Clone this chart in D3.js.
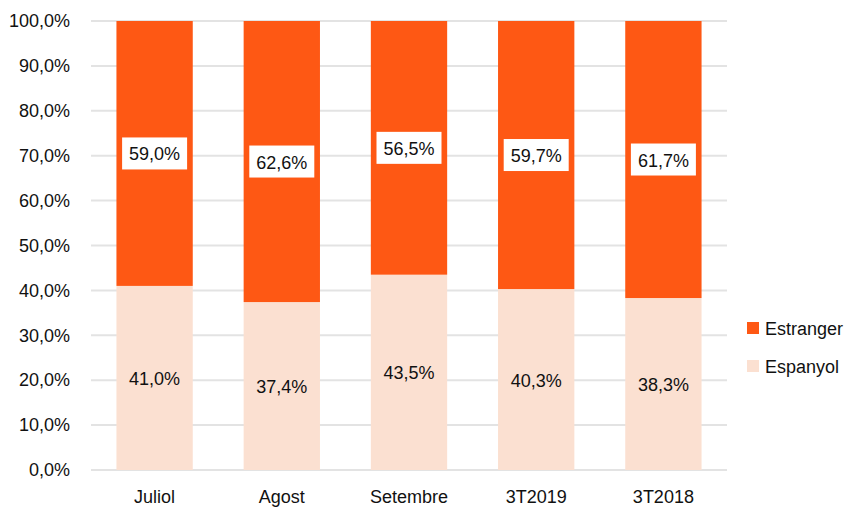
<!doctype html>
<html lang="ca">
<head>
<meta charset="utf-8">
<title>Estranger / Espanyol</title>
<style>
  body { margin: 0; background: #fff; }
  svg { display: block; font-family: "Liberation Sans", Arial, sans-serif; }
  .grid line { stroke: #e3e3e3; stroke-width: 2; }
  .axis text { font-size: 18px; fill: #111; }
</style>
</head>
<body>
<svg id="chart" width="849" height="510"></svg>
<script src="https://cdn.jsdelivr.net/npm/d3@7"></script>
<script>
var categories = ["Juliol", "Agost", "Setembre", "3T2019", "3T2018"];
var espanyol = [41.0, 37.4, 43.5, 40.3, 38.3];
var estranger = [59.0, 62.6, 56.5, 59.7, 61.7];
var yTicks = [0, 10, 20, 30, 40, 50, 60, 70, 80, 90, 100];
var seriesNames = ["Espanyol", "Estranger"];
var colors = { Espanyol: "#fbe0d1", Estranger: "#fe5814" };

var svg = d3.select("#chart");
var plotLeft = 91, plotRight = 727, plotTop = 21, plotBottom = 470;

var x = d3.scaleBand().domain(categories).range([plotLeft, plotRight]).paddingInner(0.4).paddingOuter(0.2);
var y = d3.scaleLinear().domain([0, 100]).range([plotBottom, plotTop]);

var fmt = function(v) { return v.toFixed(1).replace(".", ",") + "%"; };

// gridlines
svg.append("g").attr("class", "grid")
  .selectAll("line").data(yTicks).enter().append("line")
  .attr("x1", plotLeft).attr("x2", plotRight)
  .attr("y1", function(d) { return y(d); }).attr("y2", function(d) { return y(d); });

// y axis labels
svg.append("g").attr("class", "axis")
  .attr("transform", "translate(" + plotLeft + ",0)")
  .call(d3.axisLeft(y).tickValues(yTicks).tickSize(0).tickPadding(21)
    .tickFormat(function(d) { return fmt(d); }))
  .call(function(g) { g.select(".domain").remove(); })
  .selectAll("text").style("font-size", "18px").attr("fill", "#111")
  .attr("font-family", "Liberation Sans, Arial, sans-serif");

// x axis labels
svg.append("g").attr("class", "axis")
  .attr("transform", "translate(0," + plotBottom + ")")
  .call(d3.axisBottom(x).tickSize(0).tickPadding(20))
  .call(function(g) { g.select(".domain").remove(); })
  .selectAll("text").style("font-size", "18px").attr("fill", "#111")
  .attr("font-family", "Liberation Sans, Arial, sans-serif");

// stacked data
var rows = categories.map(function(c, i) {
  return { cat: c, Espanyol: espanyol[i], Estranger: estranger[i] };
});
var stack = d3.stack().keys(seriesNames)(rows);

var layers = svg.selectAll(".layer").data(stack).enter().append("g")
  .attr("class", "layer")
  .attr("fill", function(d) { return colors[d.key]; });

layers.selectAll("rect").data(function(d) { return d; }).enter().append("rect")
  .attr("x", function(d) { return x(d.data.cat); })
  .attr("width", x.bandwidth())
  .attr("y", function(d) { return y(d[1]); })
  .attr("height", function(d) { return y(d[0]) - y(d[1]); });

// value labels
stack.forEach(function(layer) {
  layer.forEach(function(d) {
    var v = d[1] - d[0];
    var cx = x(d.data.cat) + x.bandwidth() / 2;
    var cy = y((d[0] + d[1]) / 2);
    var g = svg.append("g");
    if (layer.key === "Estranger") {
      g.append("rect")
        .attr("x", cx - 32.5).attr("y", cy - 16)
        .attr("width", 65).attr("height", 32)
        .attr("fill", "#fff");
    }
    g.append("text")
      .attr("x", cx).attr("y", cy + 7)
      .attr("text-anchor", "middle")
      .style("font-size", "18px").attr("fill", "#111")
      .text(fmt(v));
  });
});

// legend
var legend = svg.append("g");
var legendItems = ["Estranger", "Espanyol"];
legendItems.forEach(function(k, i) {
  var ly = 328 + i * 38;
  legend.append("rect").attr("x", 747).attr("y", ly - 6)
    .attr("width", 12).attr("height", 12).attr("fill", colors[k]);
  legend.append("text").attr("x", 765).attr("y", ly + 7)
    .style("font-size", "18px").attr("fill", "#111").text(k);
});
</script>
</body>
</html>
